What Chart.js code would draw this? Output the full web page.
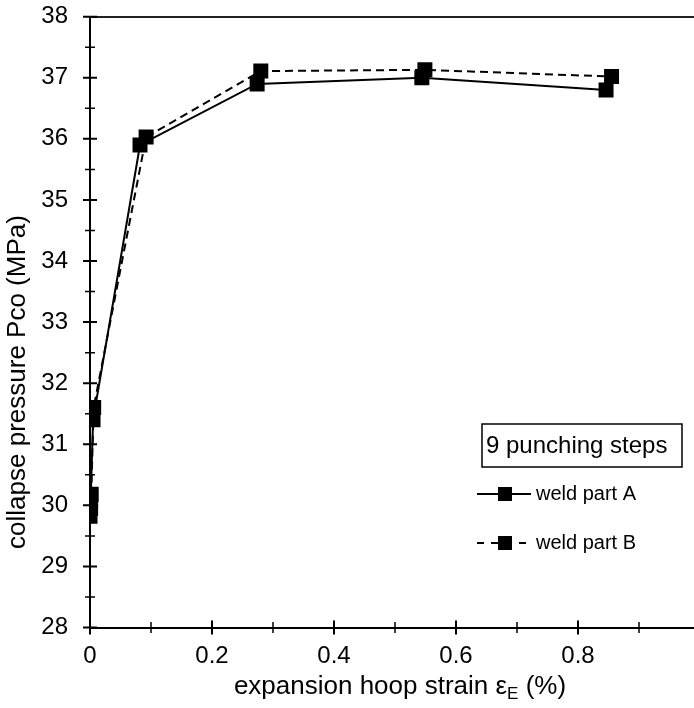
<!DOCTYPE html>
<html>
<head>
<meta charset="utf-8">
<script src="https://cdn.jsdelivr.net/npm/chart.js@4.4.1/dist/chart.umd.min.js"></script>
<style>
  html, body { margin: 0; padding: 0; background: #fff; overflow: hidden; }
  #wrap { position: relative; width: 694px; height: 708px; overflow: hidden; }
  #chart { position: absolute; left: 0; top: 0; }
</style>
</head>
<body>
<div id="wrap"><canvas id="chart" width="720" height="708"></canvas></div>
<script>
// collapse pressure vs. expansion hoop strain, two weld parts
const strainA = [0, 0.001, 0.005, 0.082, 0.274, 0.544, 0.846];
const pressureA = [29.82, 30.05, 31.4, 35.9, 36.9, 37.0, 36.8];
const strainB = [0.001, 0.002, 0.006, 0.092, 0.280, 0.549, 0.855];
const pressureB = [29.95, 30.18, 31.6, 36.03, 37.11, 37.13, 37.02];

const seriesNames = ['weld part A', 'weld part B'];
const legendTitle = '9 punching steps';
const yTitle = 'collapse pressure Pco (MPa)';

const xTicks = [0, 0.2, 0.4, 0.6, 0.8];
const xMinorTicks = [0.1, 0.3, 0.5, 0.7, 0.9];
const yTicks = [28, 29, 30, 31, 32, 33, 34, 35, 36, 37, 38];
const yMinorTicks = [28.5, 29.5, 30.5, 31.5, 32.5, 33.5, 34.5, 35.5, 36.5, 37.5];

const FONT = "'Liberation Sans', Arial, sans-serif";
const INK = '#000';

function toPoints(xs, ys) {
  return xs.map((x, i) => ({ x: x, y: ys[i] }));
}

// tick marks that cross the axis lines
const crossTicks = {
  id: 'crossTicks',
  afterDraw(chart) {
    const { ctx, chartArea } = chart;
    const x = chart.scales.x, y = chart.scales.y;
    ctx.save();
    ctx.strokeStyle = INK;
    const mark = (list, half, width, horiz) => {
      ctx.lineWidth = width;
      ctx.beginPath();
      list.forEach(v => {
        if (horiz) {
          const px = x.getPixelForValue(v);
          ctx.moveTo(px, chartArea.bottom - half);
          ctx.lineTo(px, chartArea.bottom + half);
        } else {
          const py = y.getPixelForValue(v);
          ctx.moveTo(chartArea.left - half, py);
          ctx.lineTo(chartArea.left + half, py);
        }
      });
      ctx.stroke();
    };
    mark(yTicks, 7, 2, false);
    mark(yMinorTicks, 5, 1.5, false);
    mark(xTicks.concat([1]), 7, 2, true);
    mark(xMinorTicks, 5.5, 1.5, true);
    ctx.restore();
  }
};

// axis titles (x has a subscript E) and the boxed legend
const annotations = {
  id: 'annotations',
  afterDraw(chart) {
    const { ctx } = chart;
    ctx.save();
    ctx.fillStyle = INK;
    ctx.textBaseline = 'alphabetic';

    const big = '26px ' + FONT, small = '17px ' + FONT;

    // y axis title, rotated
    ctx.save();
    ctx.font = big;
    ctx.translate(25, 382);
    ctx.rotate(-Math.PI / 2);
    ctx.textAlign = 'center';
    ctx.fillText(yTitle, 0, 0);
    ctx.restore();

    // x axis title
    const partA = 'expansion hoop strain \u03b5', partB = 'E', partC = ' (%)';
    ctx.font = big;
    const wA = ctx.measureText(partA).width, wC = ctx.measureText(partC).width;
    ctx.font = small;
    const wB = ctx.measureText(partB).width;
    const tx = 400 - (wA + wB + wC) / 2;
    const ty = 694;
    ctx.font = big;
    ctx.fillText(partA, tx, ty);
    ctx.font = small;
    ctx.fillText(partB, tx + wA, ty + 5);
    ctx.font = big;
    ctx.fillText(partC, tx + wA + wB, ty);

    // legend title box
    ctx.strokeStyle = INK;
    ctx.lineWidth = 1.5;
    ctx.strokeRect(482, 424, 200, 43);
    ctx.font = '24px ' + FONT;
    ctx.textBaseline = 'middle';
    ctx.fillText(legendTitle, 486, 446);

    // legend entries
    const rows = [494, 543];
    const dashes = [[], [7, 7]];
    ctx.font = '20px ' + FONT;
    rows.forEach((ry, i) => {
      ctx.lineWidth = 2;
      ctx.setLineDash(dashes[i]);
      ctx.beginPath();
      ctx.moveTo(477, ry);
      ctx.lineTo(531, ry);
      ctx.stroke();
      ctx.setLineDash([]);
      ctx.fillRect(498, ry - 7, 14, 14);
      ctx.fillText(seriesNames[i], 536, ry);
    });
    ctx.restore();
  }
};

const ctx = document.getElementById('chart').getContext('2d');
new Chart(ctx, {
  type: 'line',
  data: {
    datasets: [
      {
        label: seriesNames[0],
        data: toPoints(strainA, pressureA),
        borderColor: INK,
        borderWidth: 2,
        backgroundColor: INK,
        pointStyle: 'rect',
        pointRadius: 10.6,
        pointBorderWidth: 0,
        tension: 0
      },
      {
        label: seriesNames[1],
        data: toPoints(strainB, pressureB),
        borderColor: INK,
        borderWidth: 2,
        borderDash: [8, 5],
        backgroundColor: INK,
        pointStyle: 'rect',
        pointRadius: 10.6,
        pointBorderWidth: 0,
        tension: 0
      }
    ]
  },
  options: {
    responsive: false,
    animation: false,
    layout: { padding: { left: 0, right: 20, top: 0, bottom: 0 } },
    plugins: {
      legend: { display: false },
      tooltip: { enabled: false }
    },
    scales: {
      x: {
        type: 'linear',
        position: 'bottom',
        min: 0,
        max: 1,
        afterBuildTicks: s => { s.ticks = xTicks.map(v => ({ value: v })); },
        afterFit: s => { s.height = 80.5; s.paddingLeft = 0; s.paddingRight = 0; },
        ticks: {
          color: INK,
          font: { family: FONT, size: 24 },
          padding: 14,
          maxRotation: 0,
          callback: v => String(v)
        },
        grid: { display: false, drawTicks: false },
        border: { display: true, color: INK, width: 2 }
      },
      xTop: {
        type: 'linear',
        position: 'top',
        min: 0,
        max: 1,
        afterFit: s => { s.height = 16.7; },
        ticks: { display: false },
        grid: { display: false, drawTicks: false },
        border: { display: true, color: '#222', width: 2 }
      },
      y: {
        type: 'linear',
        min: 28,
        max: 38,
        afterBuildTicks: s => { s.ticks = yTicks.map(v => ({ value: v })); },
        afterFit: s => { s.width = 90; s.paddingTop = 0; s.paddingBottom = 0; },
        ticks: {
          color: INK,
          font: { family: FONT, size: 24 },
          padding: 22
        },
        grid: { display: false, drawTicks: false },
        border: { display: true, color: INK, width: 2 }
      }
    }
  },
  plugins: [crossTicks, annotations]
});
</script>
</body>
</html>
